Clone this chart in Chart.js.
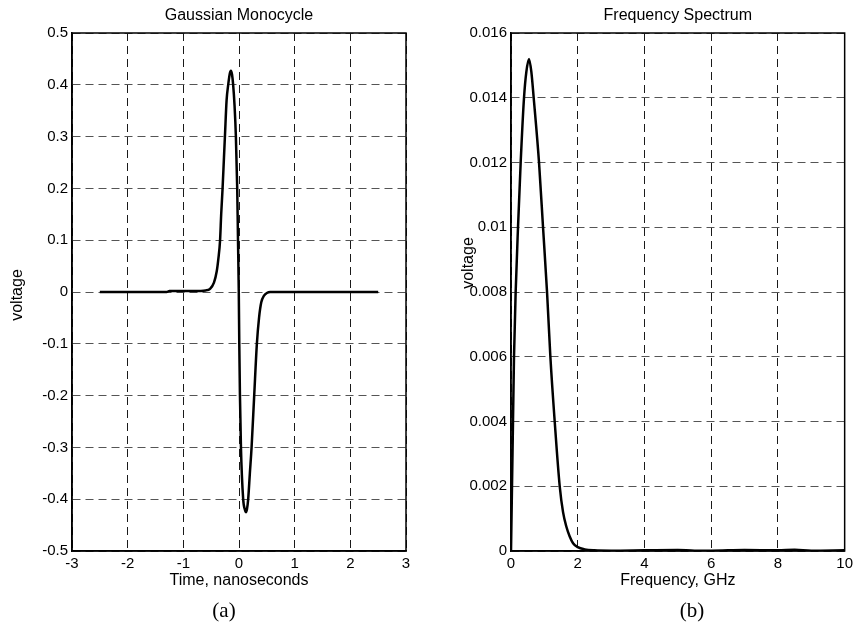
<!DOCTYPE html>
<html>
<head>
<meta charset="utf-8">
<script src="https://cdn.jsdelivr.net/npm/chart.js@4.4.1/dist/chart.umd.min.js"></script>
<style>
  html, body { margin: 0; padding: 0; background: #fff; }
  body { width: 857px; height: 630px; position: relative; overflow: hidden; }
  .panel { position: absolute; top: 0; }
  .tag { position: absolute; top: 598px; font-family: "Liberation Serif", "Times New Roman", serif; font-size: 21px; color: #000; transform: translateX(-50%); }
</style>
</head>
<body>
<div class="panel" style="left:0"><canvas id="pulseChart" width="428" height="600"></canvas></div>
<div class="panel" style="left:430px"><canvas id="specChart" width="427" height="600"></canvas></div>
<div class="tag" style="left:224px">(a)</div>
<div class="tag" style="left:692px">(b)</div>
<script>
// (a) Gaussian monocycle, time in ns
const pulseTime = [-2.5, -1.3, -1.25, -0.8, -0.6, -0.52, -0.45, -0.40, -0.37, -0.34, -0.32, -0.295, -0.27, -0.253, -0.223, -0.194, -0.165, -0.145, -0.125, -0.105, -0.08, -0.056, -0.032, -0.018, -0.004, 0.005, 0.017, 0.035, 0.075, 0.105, 0.124, 0.142, 0.165, 0.195, 0.226, 0.273, 0.321, 0.36, 0.40, 0.45, 0.5, 0.56, 2.5];
const pulseVolt = [0, 0, 0.002, 0.002, 0.003, 0.006, 0.018, 0.04, 0.065, 0.10, 0.15, 0.20, 0.26, 0.30, 0.37, 0.40, 0.422, 0.427, 0.42, 0.40, 0.36, 0.30, 0.20, 0.10, 0, -0.10, -0.20, -0.30, -0.40, -0.42, -0.425, -0.42, -0.40, -0.35, -0.30, -0.20, -0.10, -0.05, -0.02, -0.007, -0.002, 0, 0];
const pulseXTicks = [-3, -2, -1, 0, 1, 2, 3];
const pulseYTicks = [-0.5, -0.4, -0.3, -0.2, -0.1, 0, 0.1, 0.2, 0.3, 0.4, 0.5];

// (b) spectrum, GHz
const specFreq = [0, 0.03, 0.06, 0.09, 0.14, 0.21, 0.29, 0.39, 0.46, 0.54, 0.61, 0.68, 0.84, 0.96, 1.08, 1.18, 1.31, 1.46, 1.56, 1.66, 1.76, 1.86, 2.0, 2.21, 2.5, 3, 4, 5, 5.5, 6, 7, 8, 8.5, 9, 10];
const specVolt = [0, 0.002, 0.004, 0.006, 0.008, 0.010, 0.012, 0.014, 0.0148, 0.0152, 0.0148, 0.014, 0.012, 0.010, 0.008, 0.006, 0.004, 0.002, 0.0012, 0.00075, 0.00045, 0.00024, 0.00012, 0.00005, 0.00002, 0.00001, 0.00002, 0.00003, 0.00001, 0.00001, 0.00003, 0.00002, 0.00004, 0.00001, 0.00002];
const specXTicks = [0, 2, 4, 6, 8, 10];
const specYTicks = [0, 0.002, 0.004, 0.006, 0.008, 0.01, 0.012, 0.014, 0.016];

const FAMILY = '"Liberation Sans", Arial, sans-serif';
const tickFont = { family: FAMILY, size: 15 };
const labelFont = { family: FAMILY, size: 16 };
const titleFont = { family: FAMILY, size: 16, weight: 'normal' };

const boxFrame = {
    id: 'boxFrame',
    afterDatasetsDraw(chart) {
        const a = chart.chartArea, ctx = chart.ctx;
        ctx.save();
        ctx.strokeStyle = '#000';
        ctx.lineWidth = 1.5;
        ctx.strokeRect(a.left, a.top, a.right - a.left, a.bottom - a.top);
        ctx.restore();
    }
};

function makePlot(id, cfg) {
    const pts = cfg.xs.map((x, i) => ({ x, y: cfg.ys[i] }));
    return new Chart(document.getElementById(id), {
        type: 'scatter',
        data: {
            datasets: [{ data: pts, showLine: true, borderColor: '#000', borderWidth: 2.5, pointRadius: 0, cubicInterpolationMode: 'monotone', fill: false }]
        },
        options: {
            responsive: false,
            animation: false,
            layout: { padding: { left: 0, right: cfg.padRight, top: 0, bottom: 0 } },
            plugins: {
                legend: { display: false },
                tooltip: { enabled: false },
                title: { display: true, text: cfg.title, color: '#000', font: titleFont, padding: { top: 6, bottom: 7.8 }, fullSize: false }
            },
            scales: {
                x: {
                    type: 'linear', min: cfg.xTicks[0], max: cfg.xTicks[cfg.xTicks.length - 1],
                    afterBuildTicks: s => { s.ticks = cfg.xTicks.map(v => ({ value: v })); },
                    afterFit: s => { s.height = 49; },
                    grid: { color: '#1a1a1a', lineWidth: 1, drawTicks: false },
                    border: { display: true, color: '#000', width: 1.5, dash: [8, 5] },
                    ticks: { color: '#000', font: tickFont, padding: 4, maxRotation: 0, callback: v => String(v) },
                    title: { display: true, text: cfg.xLabel, color: '#000', font: labelFont, padding: { top: 0, bottom: 9.4 } }
                },
                y: {
                    type: 'linear', min: cfg.yTicks[0], max: cfg.yTicks[cfg.yTicks.length - 1],
                    afterBuildTicks: s => { s.ticks = cfg.yTicks.map(v => ({ value: v })); },
                    afterFit: s => { s.width = cfg.yWidth; },
                    grid: { color: '#555', lineWidth: 1, drawTicks: false },
                    border: { display: true, color: '#000', width: 1.5, dash: [8, 5] },
                    ticks: { color: '#000', font: tickFont, padding: 4, callback: v => String(v) },
                    title: { display: true, text: 'voltage', color: '#000', font: labelFont, padding: { top: cfg.yTitlePad, bottom: 0 } }
                }
            }
        },
        plugins: [boxFrame]
    });
}

// nudge the y title up/down, like the original keeps it clear of the tick labels
function shiftYTitle(chart, dy) {
    const s = chart.scales.y;
    const drawTitle = s.drawTitle;
    s.drawTitle = function () {
        this.ctx.save();
        this.ctx.translate(0, dy);
        drawTitle.call(this);
        this.ctx.restore();
    };
    chart.draw();
}

const pulse = makePlot('pulseChart', {
    xs: pulseTime, ys: pulseVolt, xTicks: pulseXTicks, yTicks: pulseYTicks,
    title: 'Gaussian Monocycle', xLabel: 'Time, nanoseconds',
    yWidth: 72, padRight: 22, yTitlePad: 8.4
});
shiftYTitle(pulse, 3);

const spec = makePlot('specChart', {
    xs: specFreq, ys: specVolt, xTicks: specXTicks, yTicks: specYTicks,
    title: 'Frequency Spectrum', xLabel: 'Frequency, GHz',
    yWidth: 81, padRight: 12, yTitlePad: 29
});
shiftYTitle(spec, -29);
</script>
</body>
</html>
